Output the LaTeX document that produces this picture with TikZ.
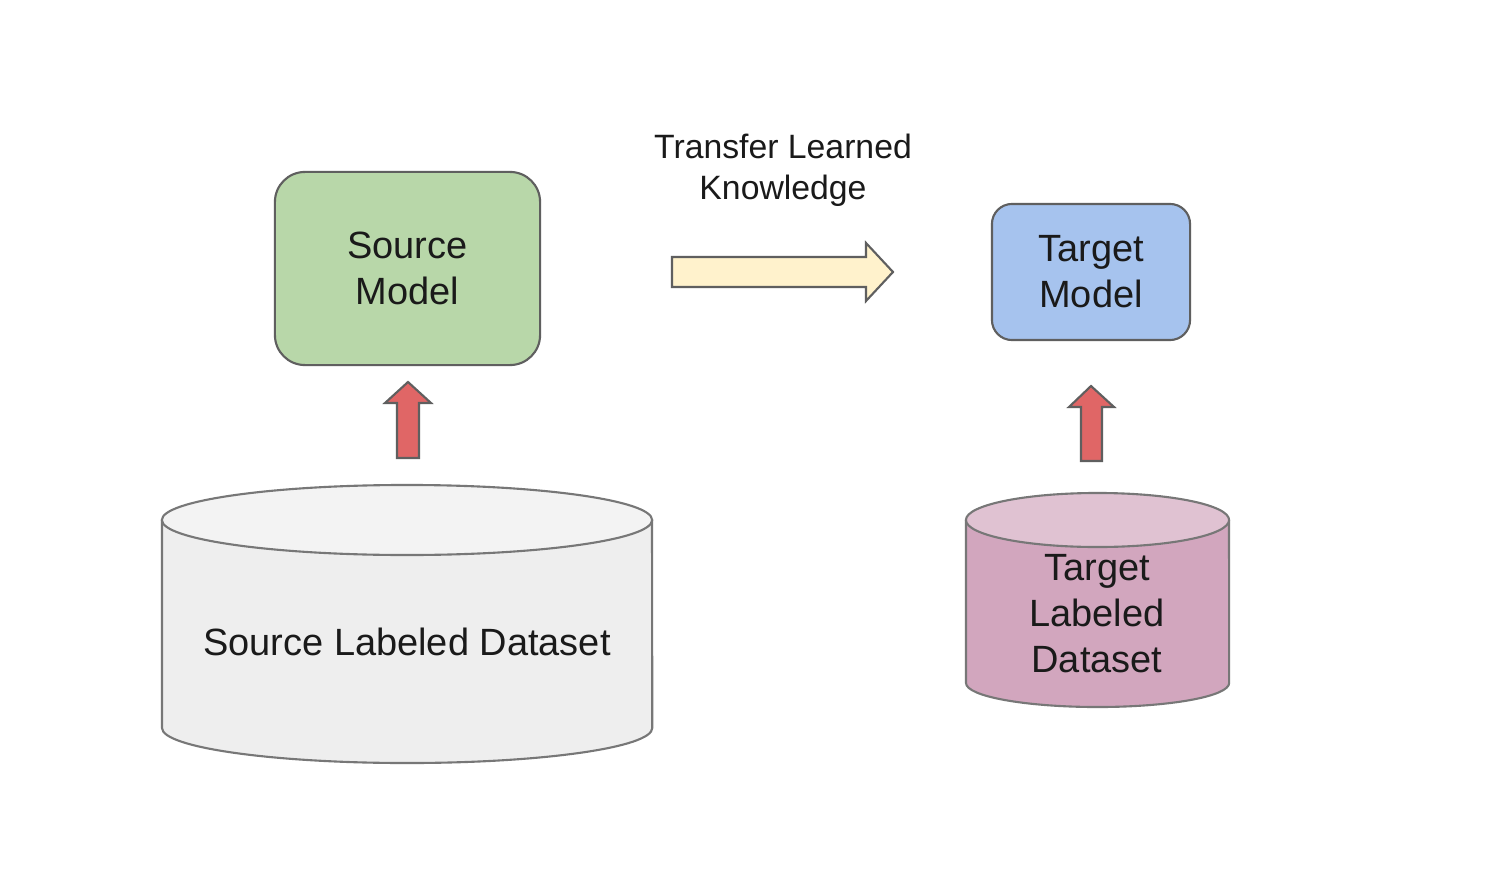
\documentclass[tikz,border=0pt]{standalone}
\usepackage{fontspec}
\setmainfont{Liberation Sans}
\definecolor{greenfill}{HTML}{B8D7A9}
\definecolor{bluefill}{HTML}{A6C3EE}
\definecolor{yellowfill}{HTML}{FFF2CC}
\definecolor{redfill}{HTML}{E06666}
\definecolor{grayfill}{HTML}{EEEEEE}
\definecolor{graytop}{HTML}{F3F3F3}
\definecolor{pinkfill}{HTML}{D2A6BE}
\definecolor{pinktop}{HTML}{E0C2D2}
\definecolor{edgegray}{HTML}{5F5F5F}
\definecolor{txt}{HTML}{1A1A1A}
\tikzset{
  x=0.01cm, y=-0.01cm,
  modelbox/.style={draw=edgegray, line width=0.6pt, align=center, text=txt,
    font=\fontsize{10.8}{13.1}\selectfont, inner sep=0pt},
  lbl/.style={align=center, text=txt, font=\fontsize{10.8}{13.1}\selectfont, inner sep=0pt},
  blockarrow/.style={draw=edgegray, line width=0.6pt, line join=miter},
  cyl/.style={draw=edgegray!85, line width=0.6pt},
}
\begin{document}
\begin{tikzpicture}
\useasboundingbox[fill=white] (0,0) rectangle (1488,894);

% Source model
\node[modelbox, fill=greenfill, rounded corners=0.3cm, minimum width=2.65cm, minimum height=1.93cm]
  (srcmodel) at (407.5,268.5) {Source\\Model};

% Target model
\node[modelbox, fill=bluefill, rounded corners=0.2cm, minimum width=1.98cm, minimum height=1.36cm]
  (tgtmodel) at (1091,272) {Target\\Model};

% Transfer label
\node[lbl, font=\fontsize{9.6}{11.7}\selectfont] (transferlbl) at (783,170) {Transfer Learned\\Knowledge};

% Transfer arrow
\draw[blockarrow, fill=yellowfill] (672,257) -- (866,257) -- (866,243) -- (893,272) -- (866,301) -- (866,287) -- (672,287) -- cycle;

% Source cylinder
\fill[grayfill] (162,520) -- (162,728) arc[start angle=180, end angle=360, x radius=2.45cm, y radius=0.35cm] -- (652,520) -- cycle;
\draw[cyl] (162,520) -- (162,728) arc[start angle=180, end angle=360, x radius=2.45cm, y radius=0.35cm] -- (652,520);
\draw[cyl, fill=graytop] (407,520) ellipse[x radius=2.45cm, y radius=0.35cm];
\node[lbl] (srcdata) at (407,642) {Source Labeled Dataset};

% Target cylinder
\fill[pinkfill] (966,520) -- (966,683) arc[start angle=180, end angle=360, x radius=1.315cm, y radius=0.24cm] -- (1229,520) -- cycle;
\draw[cyl] (966,520) -- (966,683) arc[start angle=180, end angle=360, x radius=1.315cm, y radius=0.24cm] -- (1229,520);
\draw[cyl, fill=pinktop] (1097.5,520) ellipse[x radius=1.315cm, y radius=0.27cm];
\node[lbl] (tgtdata) at (1097,614) {Target\\Labeled\\Dataset};

% Red up arrows
\draw[blockarrow, fill=redfill] (397,458) -- (397,403) -- (385,403) -- (408,382) -- (431,403) -- (419,403) -- (419,458) -- cycle;
\draw[blockarrow, fill=redfill] (1081,461) -- (1081,407) -- (1069,407) -- (1091,386) -- (1114,407) -- (1102,407) -- (1102,461) -- cycle;
\end{tikzpicture}
\end{document}
